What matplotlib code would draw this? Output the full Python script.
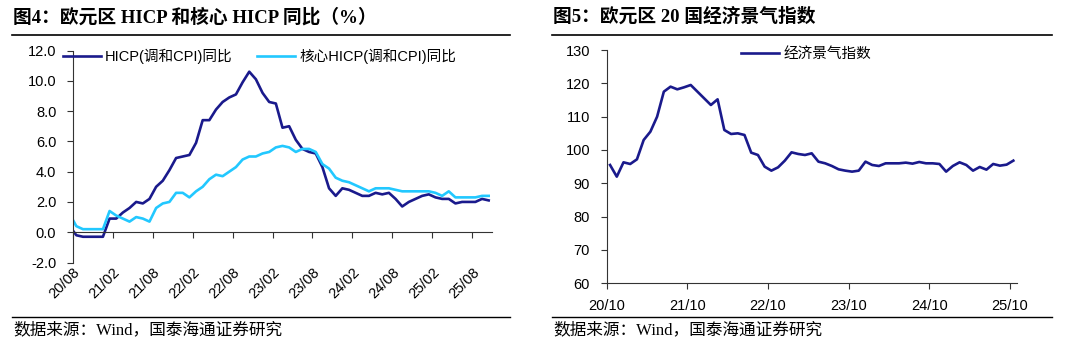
import matplotlib
matplotlib.use("Agg")
import matplotlib.pyplot as plt
from matplotlib.lines import Line2D

# ---- data ----
# monthly, starting 2020/07 (first point sits left of the axis and is clipped)
hicp = [0.4, -0.2, -0.3, -0.3, -0.3, -0.3,
        0.9, 0.9, 1.3, 1.6, 2.0, 1.9, 2.2, 3.0, 3.4, 4.1, 4.9, 5.0,
        5.1, 5.9, 7.4, 7.4, 8.1, 8.6, 8.9, 9.1, 9.9, 10.6, 10.1, 9.2,
        8.6, 8.5, 6.9, 7.0, 6.1, 5.5, 5.3, 5.2, 4.3, 2.9, 2.4, 2.9,
        2.8, 2.6, 2.4, 2.4, 2.6, 2.5, 2.6, 2.2, 1.7, 2.0, 2.2, 2.4,
        2.5, 2.3, 2.2, 2.2, 1.9, 2.0, 2.0, 2.0, 2.2, 2.1]
core = [1.2, 0.4, 0.2, 0.2, 0.2, 0.2,
        1.4, 1.1, 0.9, 0.7, 1.0, 0.9, 0.7, 1.6, 1.9, 2.0, 2.6, 2.6,
        2.3, 2.7, 3.0, 3.5, 3.8, 3.7, 4.0, 4.3, 4.8, 5.0, 5.0, 5.2,
        5.3, 5.6, 5.7, 5.6, 5.3, 5.5, 5.5, 5.3, 4.5, 4.2, 3.6, 3.4,
        3.3, 3.1, 2.9, 2.7, 2.9, 2.9, 2.9, 2.8, 2.7, 2.7, 2.7, 2.7,
        2.7, 2.6, 2.4, 2.7, 2.3, 2.3, 2.3, 2.3, 2.4, 2.4]
left_ticks = ["20/08", "21/02", "21/08", "22/02", "22/08", "23/02",
              "23/08", "24/02", "24/08", "25/02", "25/08"]

# monthly, 2020/10 - 2025/10
esi = [95.5, 92.0, 96.3, 95.8, 97.2, 103.0, 105.5, 110.0, 117.5, 119.0,
       118.2, 118.8, 119.5, 117.5, 115.5, 113.5, 115.2, 106.0, 104.8, 105.0,
       104.5, 99.2, 98.5, 95.0, 93.8, 94.8, 96.8, 99.3, 98.8, 98.5,
       99.0, 96.5, 96.0, 95.2, 94.2, 93.8, 93.5, 93.8, 96.5, 95.5,
       95.2, 96.0, 96.0, 96.0, 96.2, 95.9, 96.4, 96.0, 96.0, 95.8,
       93.5, 95.2, 96.3, 95.5, 93.8, 94.9, 94.1, 95.8, 95.3, 95.6, 96.8]
right_ticks = ["20/10", "21/10", "22/10", "23/10", "24/10", "25/10"]

navy = "#1a1a8c"
cyan = "#22c8ff"
cjk = ["Liberation Sans", "Noto Sans CJK SC"]
serif_cjk = ["Liberation Serif", "Noto Sans CJK SC"]
plt.rcParams["font.family"] = cjk
plt.rcParams["axes.unicode_minus"] = False

fs = 10.5
fig = plt.figure(figsize=(10.8, 3.42), dpi=100)
W, H = 1080.0, 342.0

def box(x0, y0, x1, y1):
    return [x0 / W, 1 - y1 / H, (x1 - x0) / W, (y1 - y0) / H]

# ---- left chart ----
ax = fig.add_axes(box(73, 50.5, 492, 262.5))
for s in ["top", "right"]:
    ax.spines[s].set_visible(False)
ax.spines["bottom"].set_position(("data", 0))
ax.spines["left"].set_color("#333333")
ax.spines["bottom"].set_color("#333333")

x = [i - 0.5 for i in range(len(hicp))]
ax.plot(x, hicp, color=navy, lw=1.9, solid_joinstyle="round", label="HICP(调和CPI)同比")
ax.plot(x, core, color=cyan, lw=1.9, solid_joinstyle="round", label="核心HICP(调和CPI)同比")
ax.set_xlim(0, 63)
ax.set_ylim(-2, 12)
ax.set_yticks(range(-2, 13, 2))
ax.set_yticklabels([f"{v:.1f}" for v in range(-2, 13, 2)], fontsize=fs)
ax.set_xticks(range(0, 61, 6))
ax.set_xticklabels(left_ticks, fontsize=fs)
ax.tick_params(axis="x", length=4, pad=20, color="#333333")
ax.tick_params(axis="y", length=4, pad=8, color="#333333")
for lab in ax.get_xticklabels():
    lab.set_rotation(45)
    lab.set_ha("right")
    lab.set_va("top")
    lab.set_rotation_mode("anchor")
ax.legend(loc="upper left", bbox_to_anchor=(-0.056, 1.07), ncol=2, frameon=False,
          fontsize=fs, handlelength=2.6, handletextpad=0.3, columnspacing=1.7)

# ---- right chart ----
ax2 = fig.add_axes(box(606.7, 50, 1016.7, 283.3))
x2 = [i + 0.5 for i in range(len(esi))]
ax2.plot(x2, esi, color=navy, lw=1.9, solid_joinstyle="round", label="经济景气指数")
ax2.set_xlim(0, 61)
ax2.set_ylim(60, 130)
ax2.set_yticks(range(60, 131, 10))
ax2.tick_params(axis="y", labelsize=fs, length=4, pad=8, color="#333333")
ax2.set_xticks(range(0, 61, 12))
ax2.set_xticklabels(right_ticks, fontsize=fs)
ax2.tick_params(axis="x", length=4, pad=7, color="#333333")
for s in ["top", "right"]:
    ax2.spines[s].set_visible(False)
ax2.spines["left"].set_color("#333333")
ax2.spines["bottom"].set_color("#333333")
ax2.legend(loc="upper left", bbox_to_anchor=(0.295, 1.07), frameon=False,
           fontsize=fs, handlelength=2.6, handletextpad=0.3)

# ---- titles, rules and source notes ----
fig.text(13 / W, 1 - 17 / H, "图4：欧元区 HICP 和核心 HICP 同比（%）", fontsize=13.5,
         fontweight="bold", family=serif_cjk, va="center", ha="left")
fig.text(553 / W, 1 - 17 / H, "图5：欧元区 20 国经济景气指数", fontsize=13.5,
         fontweight="bold", family=serif_cjk, va="center", ha="left")
for x0, x1 in [(12, 510), (552, 1052)]:
    fig.add_artist(Line2D([x0 / W, x1 / W], [1 - 35 / H, 1 - 35 / H], color="black", lw=1.2))
    fig.add_artist(Line2D([x0 / W, x1 / W], [1 - 316.5 / H, 1 - 316.5 / H], color="black", lw=1.0))
fig.text(13 / W, 1 - 330 / H, "数据来源：Wind，国泰海通证券研究", fontsize=12,
         family=serif_cjk, va="center", ha="left")
fig.text(553 / W, 1 - 330 / H, "数据来源：Wind，国泰海通证券研究", fontsize=12,
         family=serif_cjk, va="center", ha="left")

fig.savefig("out.png", dpi=100)
